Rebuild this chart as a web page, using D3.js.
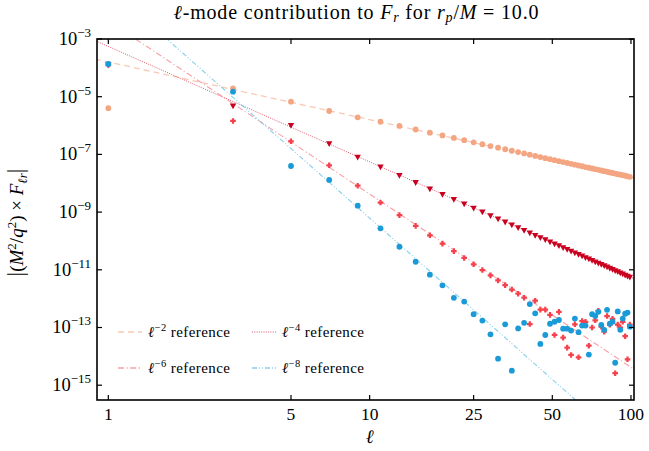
<!DOCTYPE html>
<html><head><meta charset="utf-8">
<script src="https://cdn.jsdelivr.net/npm/d3@7"></script>
<style>
html,body{margin:0;padding:0;background:#fff;}
text{font-family:"Liberation Serif","DejaVu Serif",serif;fill:#000;}
</style></head>
<body><svg id="c" width="649" height="451"></svg>
<script>
// ---- data ----
const ell = [1,3,5,7,9,11,13,15,17,19,21,23,25,27,29,31,33,35,37,39,41,43,45,47,49,51,53,55,57,59,61,63,65,67,69,71,73,75,77,79,81,83,85,87,89,91,93,95,97,99];
const fr2 = [4.0e-6,1.95e-5,6.7e-6,3.2e-6,1.93e-6,1.355e-6,9.70e-7,7.29e-7,5.67e-7,4.54e-7,3.72e-7,3.10e-7,2.62e-7,2.25e-7,1.95e-7,1.71e-7,1.51e-7,1.34e-7,1.20e-7,1.08e-7,9.76e-8,8.87e-8,8.10e-8,7.42e-8,6.83e-8,6.31e-8,5.84e-8,5.42e-8,5.05e-8,4.71e-8,4.41e-8,4.13e-8,3.88e-8,3.65e-8,3.44e-8,3.25e-8,3.08e-8,2.92e-8,2.77e-8,2.63e-8,2.50e-8,2.38e-8,2.27e-8,2.17e-8,2.07e-8,1.98e-8,1.90e-8,1.82e-8,1.74e-8,1.67e-8];
const fr4 = [1.3e-4,4.77e-6,1.02e-6,2.35e-7,8.1e-8,3.67e-8,1.88e-8,1.06e-8,6.43e-9,4.12e-9,2.76e-9,1.92e-9,1.37e-9,1.01e-9,7.59e-10,5.81e-10,4.53e-10,3.58e-10,2.87e-10,2.32e-10,1.90e-10,1.57e-10,1.31e-10,1.10e-10,9.32e-11,7.94e-11,6.81e-11,5.87e-11,5.09e-11,4.43e-11,3.88e-11,3.41e-11,3.01e-11,2.66e-11,2.37e-11,2.11e-11,1.89e-11,1.70e-11,1.53e-11,1.38e-11,1.25e-11,1.13e-11,1.03e-11,9.37e-12,8.56e-12,7.83e-12,7.18e-12,6.59e-12,6.07e-12,5.59e-12];
const fr6 = [1.25e-4,1.44e-6,2.84e-7,4.19e-8,8.24e-9,2.145e-9,7.87e-10,3.34e-10,1.574e-10,8.08e-11,4.43e-11,2.57e-11,1.556e-11,9.81e-12,6.39e-12,4.28e-12,2.94e-12,2.07e-12,1.48e-12,1.08e-12,1.32e-13,8.5e-13,4.17e-13,4.17e-13,2.75e-13,5.5e-14,3.47e-13,4.47e-14,2.0e-14,1.12e-14,1.29e-13,9.3e-15,1.66e-13,1.58e-13,2.34e-14,1.0e-13,1.78e-13,3.8e-13,1.07e-13,7.2e-14,2.5e-13,1.26e-13,2.0e-13,2.6e-15,1.26e-13,1.0e-13,1.58e-13,5.0e-14,7.9e-15,1.26e-13];
const fr8 = [1.36e-4,1.49e-5,3.96e-8,1.30e-8,1.67e-9,2.75e-10,6.3e-11,1.9e-11,6.8e-12,2.9e-12,1.07e-12,7.9e-13,2.9e-13,1.74e-13,5.8e-14,8.3e-15,1.29e-13,3.2e-15,9.3e-14,1.45e-13,6.5e-13,3.1e-13,2.7e-14,5.5e-14,1.35e-13,1.58e-13,1.82e-13,9.1e-14,9.1e-14,7.8e-14,2.04e-13,6.9e-14,1.17e-13,1.17e-13,1.15e-14,2.9e-13,2.5e-13,3.5e-13,1.23e-13,8.3e-14,4.1e-13,1.35e-13,1.58e-13,6.0e-15,3.6e-13,8.3e-14,2.04e-13,3.0e-13,3.3e-13,1.07e-13];
const refPowers = [-2,-4,-6,-8];
const refCoeffs = [1.6e-4,5.5e-4,4.2e-3,6.2e-2];
const refLabels = ["\u22122","\u22124","\u22126","\u22128"];
const xTicks = [1,5,10,25,50,100];
const yTickExps = [-3,-5,-7,-9,-11,-13,-15];
const xDomain = [0.905,102.7];
const yDomain = [Math.pow(10,-15.513),1e-3];

// ---- layout ----
const svg = d3.select("#c");
const L=97, R=634, T=39, B=400;
const x = d3.scaleLog().domain(xDomain).range([L,R]);
const y = d3.scaleLog().domain(yDomain).range([B,T]);

svg.append("defs").append("clipPath").attr("id","clip")
  .append("rect").attr("x",L).attr("y",T).attr("width",R-L).attr("height",B-T);

const plot = svg.append("g").attr("clip-path","url(#clip)");

// reference lines
const refStyle = [
  {color:"#f4a582", dash:"6,4", w:1.3, op:0.6},
  {color:"#ca0020", dash:"1,1.3", w:1.0, op:0.65},
  {color:"#f4606a", dash:"6,2.5,1.2,2.5", w:1.1, op:0.6},
  {color:"#6cc3e8", dash:"5,2,1,2,1,2", w:1.1, op:0.8}
];
const lineGen = d3.line().x(d=>x(d[0])).y(d=>y(d[1]));
refPowers.forEach((p,i)=>{
  const pts = [xDomain[0]*0.9, xDomain[1]*1.1].map(l=>[l, refCoeffs[i]*Math.pow(l,p)]);
  plot.append("path").attr("d",lineGen(pts)).attr("fill","none")
    .attr("stroke",refStyle[i].color).attr("stroke-width",refStyle[i].w)
    .attr("stroke-dasharray",refStyle[i].dash).attr("opacity",refStyle[i].op);
});

// markers
function plus(s){ // filled plus
  const a=s, b=s*0.4;
  return `M${-b},${-a}H${b}V${-b}H${a}V${b}H${b}V${a}H${-b}V${b}H${-a}V${-b}H${-b}Z`;
}
const series = [
  {vals:fr2, color:"#f4a582", shape:"circle", r:2.9},
  {vals:fr4, color:"#ca0020", shape:"tri", r:3.2},
  {vals:fr6, color:"#f5414b", shape:"plus", r:2.8},
  {vals:fr8, color:"#1a9bd7", shape:"circle", r:2.9}
];
series.forEach(s=>{
  const g = plot.append("g");
  ell.forEach((l,i)=>{
    const cx=x(l), cy=y(s.vals[i]);
    if(s.shape==="circle"){
      g.append("circle").attr("cx",cx).attr("cy",cy).attr("r",s.r).attr("fill",s.color);
    } else if(s.shape==="tri"){
      const r=s.r;
      g.append("path").attr("d",`M${cx-r},${cy-r*0.75}L${cx+r},${cy-r*0.75}L${cx},${cy+r*1.05}Z`).attr("fill",s.color);
    } else {
      g.append("path").attr("d",plus(s.r)).attr("transform",`translate(${cx},${cy})`).attr("fill",s.color);
    }
  });
});

// frame
svg.append("rect").attr("x",L).attr("y",T).attr("width",R-L).attr("height",B-T)
  .attr("fill","none").attr("stroke","#000").attr("stroke-width",1.6);

// ticks (inward, all four sides)
const tk=5;
xTicks.forEach(t=>{
  const px=x(t);
  svg.append("line").attr("x1",px).attr("x2",px).attr("y1",B).attr("y2",B-tk).attr("stroke","#000").attr("stroke-width",1.2);
  svg.append("line").attr("x1",px).attr("x2",px).attr("y1",T).attr("y2",T+tk).attr("stroke","#000").attr("stroke-width",1.2);
  svg.append("text").attr("x",px).attr("y",B+20).attr("text-anchor","middle").attr("font-size",17.5).text(t);
});
yTickExps.forEach(e=>{
  const py=y(Math.pow(10,e));
  svg.append("line").attr("x1",L).attr("x2",L+tk).attr("y1",py).attr("y2",py).attr("stroke","#000").attr("stroke-width",1.2);
  svg.append("line").attr("x1",R).attr("x2",R-tk).attr("y1",py).attr("y2",py).attr("stroke","#000").attr("stroke-width",1.2);
  const t = svg.append("text").attr("x",L-6).attr("y",py+6).attr("text-anchor","end").attr("font-size",18.5);
  t.append("tspan").text("10");
  t.append("tspan").attr("dy",-8).attr("font-size",13).text("\u2212"+(-e));
});

// title
const title = svg.append("text").attr("x",356).attr("y",19).attr("text-anchor","middle").attr("font-size",20)
  .attr("textLength",365).attr("lengthAdjust","spacing");
title.append("tspan").attr("font-style","italic").text("\u2113");
title.append("tspan").text("-mode contribution to ");
title.append("tspan").attr("font-style","italic").text("F");
title.append("tspan").attr("font-style","italic").attr("font-size",14).attr("dy",3).text("r");
title.append("tspan").attr("dy",-3).text(" for ");
title.append("tspan").attr("font-style","italic").text("r");
title.append("tspan").attr("font-style","italic").attr("font-size",14).attr("dy",3).text("p");
title.append("tspan").attr("dy",-3).text("/");
title.append("tspan").attr("font-style","italic").text("M");
title.append("tspan").text(" = 10.0");

// x label
svg.append("text").attr("x",x(10)).attr("y",443).attr("text-anchor","middle").attr("font-size",19).attr("font-style","italic").text("\u2113");

// y label
const yl = svg.append("text").attr("transform",`translate(23,${(T+B)/2+3}) rotate(-90)`).attr("text-anchor","middle").attr("font-size",19);
yl.append("tspan").attr("font-size",23).text("|");
yl.append("tspan").text("(");
yl.append("tspan").attr("font-style","italic").text("M");
yl.append("tspan").attr("font-size",13).attr("dy",-7).text("2");
yl.append("tspan").attr("dy",7).text("/");
yl.append("tspan").attr("font-style","italic").text("q");
yl.append("tspan").attr("font-size",13).attr("dy",-7).text("2");
yl.append("tspan").attr("dy",7).text(") \u00d7 ");
yl.append("tspan").attr("font-style","italic").text("F");
yl.append("tspan").attr("font-style","italic").attr("font-size",13).attr("dy",4).text("\u2113r");
yl.append("tspan").attr("dy",-4).attr("font-size",23).text("|");

// legend
const legPos = [[118,332],[252,332],[118,368],[252,368]];
refPowers.forEach((p,i)=>{
  const [lx,ly]=legPos[i];
  svg.append("line").attr("x1",lx).attr("x2",lx+24).attr("y1",ly).attr("y2",ly)
    .attr("stroke",refStyle[i].color).attr("stroke-width",refStyle[i].w+0.2)
    .attr("stroke-dasharray",refStyle[i].dash).attr("opacity",refStyle[i].op);
  const t = svg.append("text").attr("x",lx+30).attr("y",ly+5).attr("font-size",15)
    .attr("textLength",82).attr("lengthAdjust","spacing");
  t.append("tspan").attr("font-style","italic").text("\u2113");
  t.append("tspan").attr("font-size",10.5).attr("dy",-6).text(refLabels[i]);
  t.append("tspan").attr("dy",6).text(" reference");
});
</script></body></html>
